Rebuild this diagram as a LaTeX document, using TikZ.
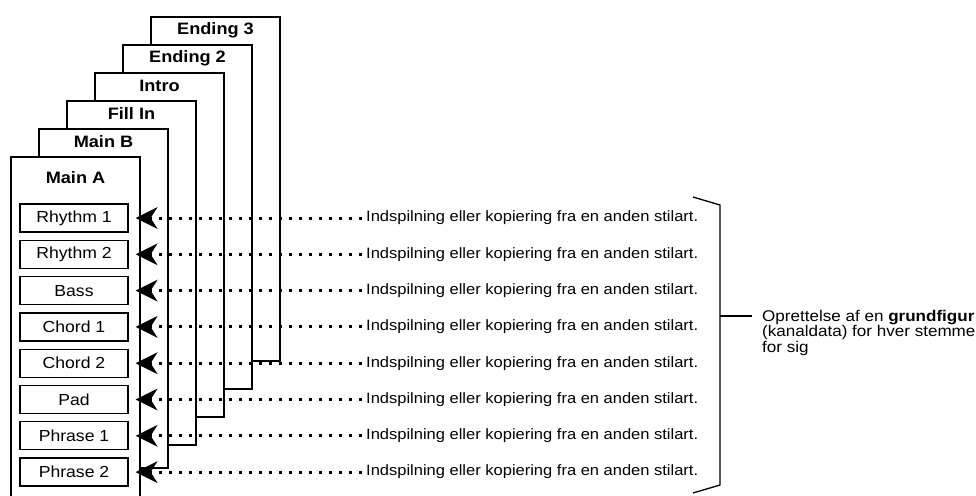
\documentclass[tikz,border=0pt]{standalone}
\usepackage{fontspec}
\setmainfont{Liberation Sans}[FakeStretch=1.1]
\tikzset{
  frame/.style={draw=black, fill=white, line width=2pt, anchor=north west, minimum width=129pt, inner sep=0pt},
  ftitle/.style={font=\fontsize{16.5}{17}\selectfont\bfseries, inner sep=0pt},
  part/.style={draw=black, fill=white, line width=1.3pt, minimum width=108pt, minimum height=28pt, inner sep=0pt, font=\fontsize{16}{17}\selectfont},
  desc/.style={anchor=west, inner sep=0pt, font=\fontsize{15}{16}\selectfont},
  feed/.style={line width=3pt, dash pattern=on 3pt off 7pt},
  headfill/.style={fill=black},
  bracket/.style={line width=1.3pt},
}
\begin{document}
\begin{tikzpicture}[x=1pt,y=-1pt]
\useasboundingbox (0,0) rectangle (976,495);
\clip (0,0) rectangle (976,495);
% stacked frames, back to front
\node[frame, minimum height=344pt] (e3) at (150,16) {};
\node[ftitle] (te3) at ([yshift=-14pt]e3.north) {Ending 3};
\node[frame, minimum height=344pt] (e2) at (122,44) {};
\node[ftitle] (te2) at ([yshift=-14pt]e2.north) {Ending 2};
\node[frame, minimum height=344pt] (in) at (94,72) {};
\node[ftitle] (tin) at ([yshift=-14pt]in.north) {Intro};
\node[frame, minimum height=344pt] (fi) at (66,100) {};
\node[ftitle] (tfi) at ([yshift=-14pt]fi.north) {Fill In};
\node[frame, minimum height=339pt] (mb) at (38,128) {};
\node[ftitle] (tmb) at ([yshift=-14pt]mb.north) {Main B};
\node[frame, minimum height=360pt] (ma) at (10,156) {};
\node[ftitle] (tma) at ([yshift=-22pt]ma.north) {Main A};
% parts and feeds
\foreach \n/\lab [count=\i from 0] in {r1/Rhythm 1, r2/Rhythm 2, ba/Bass, c1/Chord 1, c2/Chord 2, pa/Pad, p1/Phrase 1, p2/Phrase 2} {
  \pgfmathsetmacro{\yy}{218+36.3*\i}
  \node[part] (\n) at (74,\yy) {\lab};
  \node[desc] (d\n) at (366,\yy) {Indspilning eller kopiering fra en anden stilart.};
  \coordinate (tip\n) at ([xshift=7pt]\n.east);
  \coordinate (back\n) at ([xshift=15pt]tip\n);
  \draw[feed] ([xshift=-4pt]d\n.west) -- (back\n);
  \fill[headfill] (tip\n) -- ++(22,-11) -- (back\n) -- ++(7,11) -- cycle;
}
% bracket
\coordinate (bt) at (693,197);
\coordinate (bt2) at (720,205);
\coordinate (bb2) at (720,485);
\coordinate (bb) at (693,493);
\coordinate (bm) at (720,316);
\node[anchor=north west, inner sep=0pt, align=left, font=\fontsize{15.5}{13}\selectfont] (note) at (762,310)
  {Oprettelse af en \textbf{grundfigur}\\(kanaldata) for hver stemme\\for sig};
\coordinate (nm) at (note.west |- bm);
\draw[bracket] (bt) -- (bt2) -- (bb2) -- (bb);
\draw[bracket] (bm) -- ([xshift=-10pt]nm);
\end{tikzpicture}
\end{document}
